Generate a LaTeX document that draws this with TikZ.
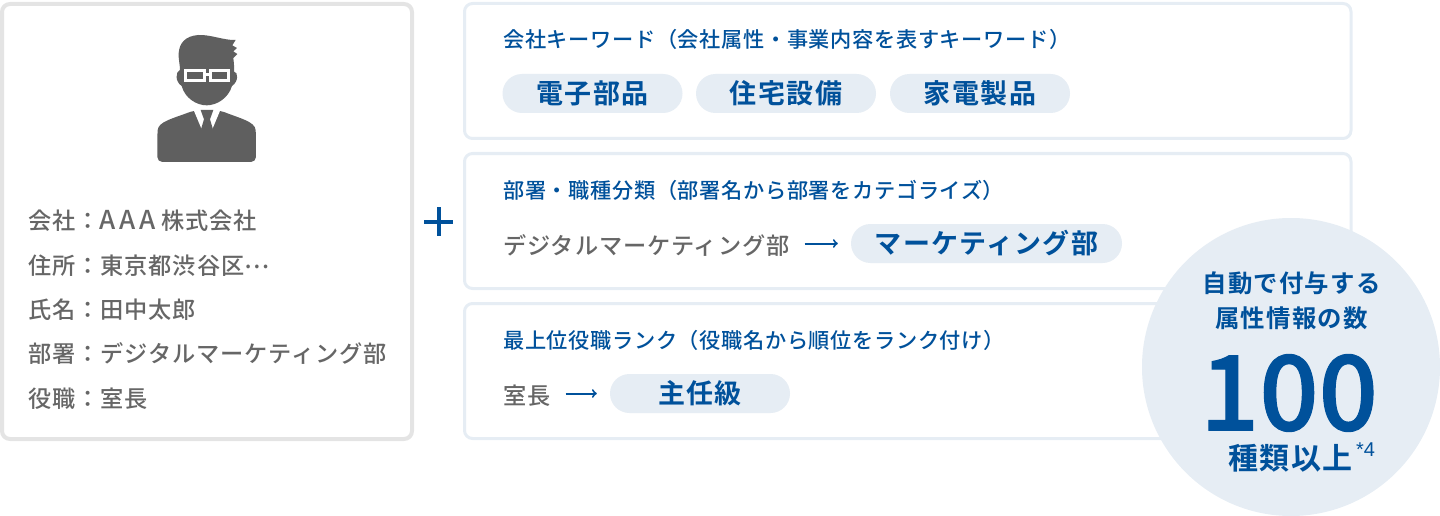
\documentclass[tikz,border=0pt]{standalone}
\usepackage{fontspec}
\setmainfont{Noto Sans CJK JP}
\newfontfamily\cjkmed[LetterSpace=3]{Noto Sans CJK JP Medium}
\newfontfamily\cjkbody[LetterSpace=4]{Noto Sans CJK JP Medium}
\newfontfamily\cjkbig[LetterSpace=5]{Noto Sans CJK JP Bold}
\newfontfamily\numfont{Liberation Sans}
\newfontfamily\bignum[FakeBold=1]{Noto Sans CJK JP Medium}
\definecolor{navy}{HTML}{00519B}
\definecolor{pale}{HTML}{E6EDF4}
\definecolor{edge}{HTML}{E4E4E4}
\definecolor{ink}{HTML}{666666}
\definecolor{figure}{HTML}{5F5F5F}
\tikzset{
    card/.style = {draw = pale, line width = 3pt, rounded corners = 8pt, fill = white},
    heading/.style = {anchor = base west, inner sep = 0pt, text = navy, font = \cjkmed\fontsize{21.2}{24}\selectfont},
    body/.style = {anchor = base west, inner sep = 0pt, text = ink, font = \cjkbody\fontsize{23.2}{28}\selectfont},
    tag/.style = {fill = pale, rounded corners = 19.5pt, inner sep = 0pt, minimum height = 39pt, text = navy,
        text height = 23pt, text depth = 3pt, font = \cjkbig\fontsize{27}{30}\selectfont},
    circletext/.style = {inner sep = 0pt, text = navy, text height = 21.5pt, text depth = 3pt, font = \cjkbig\fontsize{24.4}{28}\selectfont},
    link/.style = {->, navy, line width = 2pt, shorten < = 15pt, shorten > = 13pt}
}
\begin{document}
\begin{tikzpicture}[x = 1pt, y = -1pt]
    \useasboundingbox (0, 0) rectangle (1440, 516);

    \draw[draw = edge, line width = 4pt, rounded corners = 8pt, fill = white] (2, 4) rectangle (412, 439);
    \begin{scope}[shift = {(130, 20)}, x = 0.3333pt, y = -0.3333pt]
        \fill[figure] (150, 150) .. controls (150, 135) and (145, 115) .. (146, 100) .. controls (148, 70) and (165, 48) .. (205, 45)
            .. controls (240, 43) and (285, 62) .. (317, 60) -- (307, 76) -- (321, 84) -- (310, 94) -- (322, 102) -- (310, 114)
            .. controls (312, 130) and (313, 145) .. (312, 155) .. controls (325, 155) and (326, 185) .. (306, 198)
            .. controls (295, 235) and (260, 256) .. (230, 256) .. controls (200, 256) and (165, 235) .. (155, 198)
            .. controls (135, 185) and (136, 155) .. (150, 150) -- cycle;
        \draw[white, line width = 3pt, fill = figure] (168, 152) rectangle (223, 181);
        \draw[white, line width = 3pt, fill = figure] (241, 152) rectangle (295, 181);
        \draw[white, line width = 3pt] (223, 165) -- (241, 165);
        \fill[figure, rounded corners = 5pt] (82, 426) -- (82, 345) .. controls (85, 305) and (130, 295) .. (190, 272)
            -- (272, 272) .. controls (330, 295) and (375, 305) .. (378, 345) -- (378, 426) -- cycle;
        \fill[white] (190, 268) -- (216, 330) -- (246, 330) -- (272, 268) -- cycle;
        \fill[figure] (212, 270) -- (250, 270) -- (240, 298) -- (249, 328) -- (231, 346) -- (213, 328) -- (222, 298) -- cycle;
    \end{scope}
    \foreach \i/\y/\txt in {1/229/会社：{\fontsize{26}{28}\selectfont A\kern4pt A\kern4pt A\kern5pt}株式会社, 2/274/住所：東京都渋谷区\raisebox{6pt}{…}, 3/318/氏名：田中太郎, 4/362/部署：デジタルマーケティング部, 5/407/役職：室長}
        \node[body] (line\i) at (28, \y) {\txt};

    \draw[navy, line width = 4pt] (424, 222) -- (453, 222);
    \draw[navy, line width = 4pt] (438.5, 207) -- (438.5, 236);

    \draw[card] (464.5, 3.5) rectangle (1351, 138.5);
    \draw[card] (464.5, 153.5) rectangle (1351, 288.5);
    \draw[card] (464.5, 303.5) rectangle (1351, 438.5);

    \node[heading] (head1) at (503, 48) {会社キーワード（会社属性・事業内容を表すキーワード）};
    \node[tag, minimum width = 180pt] (tag1) at (592.5, 93.5) {電子部品};
    \node[tag, minimum width = 180pt] (tag2) at (786, 93.5) {住宅設備};
    \node[tag, minimum width = 180pt] (tag3) at (980, 93.5) {家電製品};

    \node[heading] (head2) at (503, 198) {部署・職種分類（部署名から部署をカテゴライズ）};
    \node[body] (dept) at (503, 254) {デジタルマーケティング部};
    \node[tag, minimum width = 271pt] (tag4) at (986.5, 243.5) {マーケティング部};
    \draw[link] (dept.east |- tag4.west) -- (tag4.west);

    \node[heading] (head3) at (503, 348) {最上位役職ランク（役職名から順位をランク付け）};
    \node[body] (rank) at (503, 404) {室長};
    \node[tag, minimum width = 180pt] (tag5) at (700, 393.5) {主任級};
    \draw[link] (rank.east |- tag5.west) -- (tag5.west);

    \fill[pale] (1291, 367) circle (149);
    \node[circletext] (count1) at (1291.5, 283) {自動で付与する};
    \node[circletext] (count2) at (1291.5, 318) {属性情報の数};
    \node[inner sep = 0pt, text = navy, font = \bignum\fontsize{104}{104}\selectfont] (count3) at (1289, 393) {100};
    \node[circletext, text height = 26pt, text depth = 3.5pt, font = \cjkbig\fontsize{30}{32}\selectfont] (count4) at (1290.5, 458) {種類以上};
    \node[anchor = west, inner sep = 0pt, text = navy, font = \numfont\fontsize{20}{20}\selectfont] (note) at (count4.east) [xshift = 3pt, yshift = 8pt] {*4};
\end{tikzpicture}
\end{document}
